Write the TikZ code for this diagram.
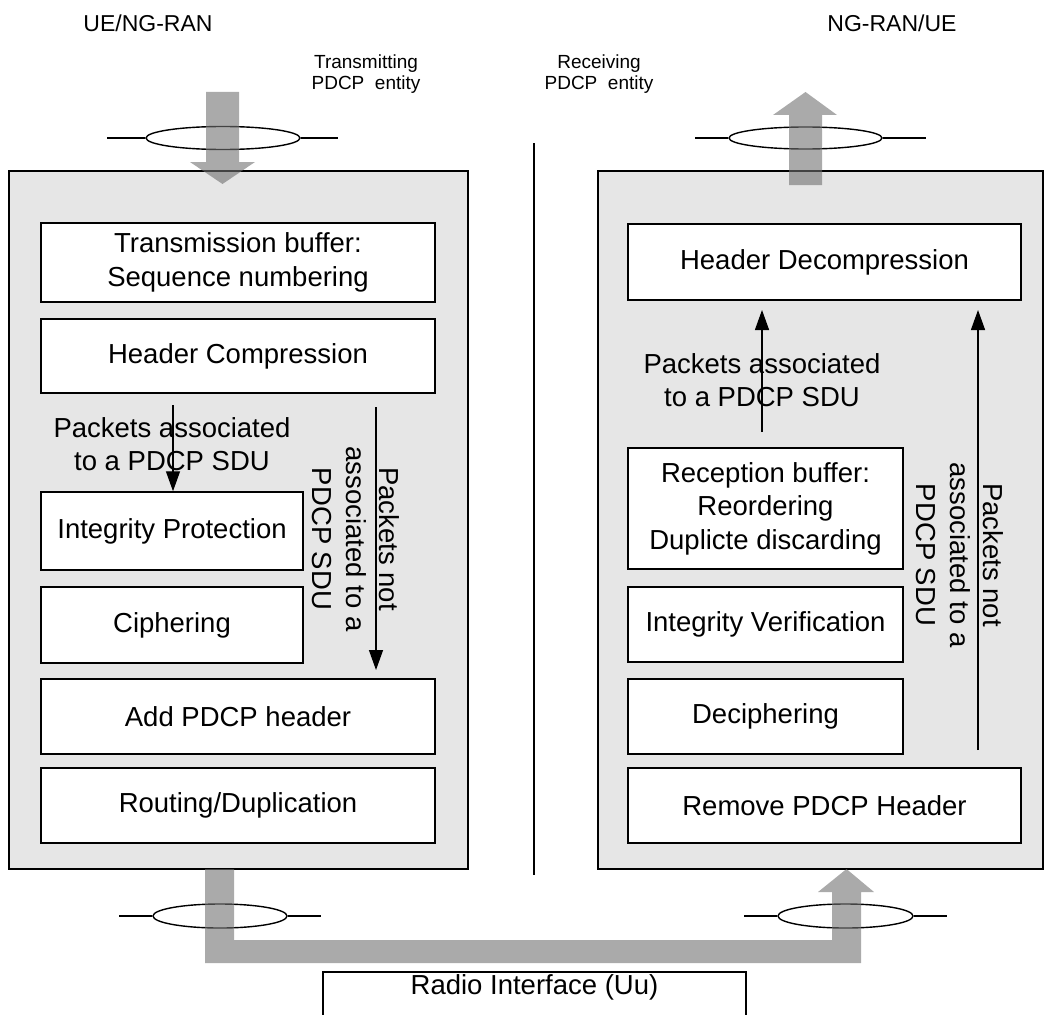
\documentclass[tikz,border=0pt]{standalone}
\usepackage{fontspec}
\setmainfont{Liberation Sans}
\usetikzlibrary{arrows.meta,shapes.geometric}
\definecolor{panel}{RGB}{230,230,230}
\definecolor{pipe}{RGB}{113,113,113}
\newcommand\boxfont{\fontsize{27.5pt}{33.5pt}\selectfont}
\newcommand\sidefont{\fontsize{23pt}{27pt}\selectfont}
\newcommand\entfont{\fontsize{19pt}{21pt}\selectfont}
\begin{document}
\begin{tikzpicture}[x=1pt,y=-1pt,
  panelbox/.style={draw=black, line width=1.5pt, fill=panel, inner sep=0pt},
  funcbox/.style={draw=black, line width=1.5pt, fill=white, align=center, font=\boxfont, inner sep=0pt},
  sap/.style={ellipse, draw=black, line width=1.4pt, inner sep=0pt},
  sapline/.style={line width=1.4pt},
  pipearrow/.style={fill=pipe, fill opacity=0.6, draw=none},
  flow/.style={line width=1.4pt, -{Triangle[length=20pt,width=14pt]}},
  lbl/.style={font=\boxfont, align=center, inner sep=0pt},
]
\useasboundingbox (0,0) rectangle (1046,1014);

% panels
\node[panelbox, minimum width=459pt, minimum height=698pt] (txpanel) at (238.5,520) {};
\node[panelbox, minimum width=445pt, minimum height=698pt] (rxpanel) at (820.5,520) {};

% divider
\coordinate (divtop) at (534,143);
\coordinate (divbot) at (534,875);
\draw[line width=1.4pt] (divtop) -- (divbot);

% headings
\node[font=\sidefont, anchor=base, inner sep=0pt] (uetx) at (148,32) {UE/NG-RAN};
\node[font=\sidefont, anchor=base, inner sep=0pt] (uerx) at (892,32) {NG-RAN/UE};
\node[font=\entfont, align=center, inner sep=0pt] (txent) at (366,74) {Transmitting\\PDCP\ \ entity};
\node[font=\entfont, align=center, inner sep=0pt] (rxent) at (599,74) {Receiving\\PDCP\ \ entity};

% transmitting side boxes
\node[funcbox, minimum width=394pt, minimum height=79pt] (tb) at (238,262.5) {Transmission buffer:\\Sequence numbering};
\node[funcbox, minimum width=394pt, minimum height=74pt] (hc) at (238,356) {Header Compression};
\node[funcbox, minimum width=262pt, minimum height=78pt] (ip) at (172,531) {Integrity Protection};
\node[funcbox, minimum width=262pt, minimum height=76pt] (ci) at (172,625) {Ciphering};
\node[funcbox, minimum width=394pt, minimum height=75pt] (ap) at (238,716.5) {Add PDCP header};
\node[funcbox, minimum width=394pt, minimum height=75pt] (rd) at (238,805.5) {Routing/Duplication};

% receiving side boxes
\node[funcbox, minimum width=393pt, minimum height=76pt] (hd) at (824.5,262) {Header Decompression};
\node[funcbox, minimum width=275pt, minimum height=121pt] (rb) at (765.5,508.5) {Reception buffer:\\Reordering\\Duplicte discarding};
\node[funcbox, minimum width=275pt, minimum height=75pt] (iv) at (765.5,624.5) {Integrity Verification};
\node[funcbox, minimum width=275pt, minimum height=75pt] (de) at (765.5,716.5) {Deciphering};
\node[funcbox, minimum width=393pt, minimum height=75pt] (rh) at (824.5,805.5) {Remove PDCP Header};

% radio interface
\node[draw=black, line width=1.5pt, fill=white, font=\boxfont, anchor=north, minimum width=423pt,
      inner sep=0pt, text height=23pt, text depth=22pt] (radio) at (534.5,971) {Radio Interface (Uu)};

% internal flows
\coordinate (a1s) at (173,405);
\draw[flow] (a1s) -- (ip.north -| a1s);
\coordinate (a2s) at (376,407);
\coordinate (a2e) at (376,670);
\draw[flow] (a2s) -- (a2e);
\coordinate (a3s) at (762,432);
\coordinate (a3e) at (762,310);
\draw[flow] (a3s) -- (a3e);
\coordinate (a4s) at (978,750);
\coordinate (a4e) at (978,310);
\draw[flow] (a4s) -- (a4e);

% flow labels
\node[lbl] (assocL) at (172,444) {Packets associated\\to a PDCP SDU};
\node[lbl] (assocR) at (762,380) {Packets associated\\to a PDCP SDU};
\node[lbl, rotate=-90] (notL) at (356,539) {Packets not\\associated to a\\PDCP SDU};
\node[lbl, rotate=-90] (notR) at (960,555) {Packets not\\associated to a\\PDCP SDU};

% service access points
\node[sap, minimum width=154pt, minimum height=23pt] (sapTL) at (223,138) {};
\draw[sapline] (sapTL.west) -- ++(-38,0);
\draw[sapline] (sapTL.east) -- ++(37,0);
\node[sap, minimum width=153pt, minimum height=22pt] (sapTR) at (805.5,138) {};
\draw[sapline] (sapTR.west) -- ++(-33,0);
\draw[sapline] (sapTR.east) -- ++(43,0);
\node[sap, minimum width=134pt, minimum height=24pt] (sapBL) at (220,916) {};
\draw[sapline] (sapBL.west) -- ++(-33,0);
\draw[sapline] (sapBL.east) -- ++(33,0);
\node[sap, minimum width=135pt, minimum height=24pt] (sapBR) at (845.5,916) {};
\draw[sapline] (sapBR.west) -- ++(-33,0);
\draw[sapline] (sapBR.east) -- ++(33,0);

% thick data pipes
\fill[pipearrow] (206,92) -- (239,92) -- (239,162) -- (255,162) -- (222.5,184) -- (190,162) -- (206,162) -- cycle;
\fill[pipearrow] (789,185) -- (822,185) -- (822,115) -- (837,115) -- (805.5,92) -- (773,115) -- (789,115) -- cycle;
\fill[pipearrow] (205,869) -- (234,869) -- (234,940) -- (832,940) -- (832,892) -- (818,892) -- (846.5,869)
   -- (874,892) -- (861,892) -- (861,963) -- (205,963) -- cycle;
\end{tikzpicture}
\end{document}
